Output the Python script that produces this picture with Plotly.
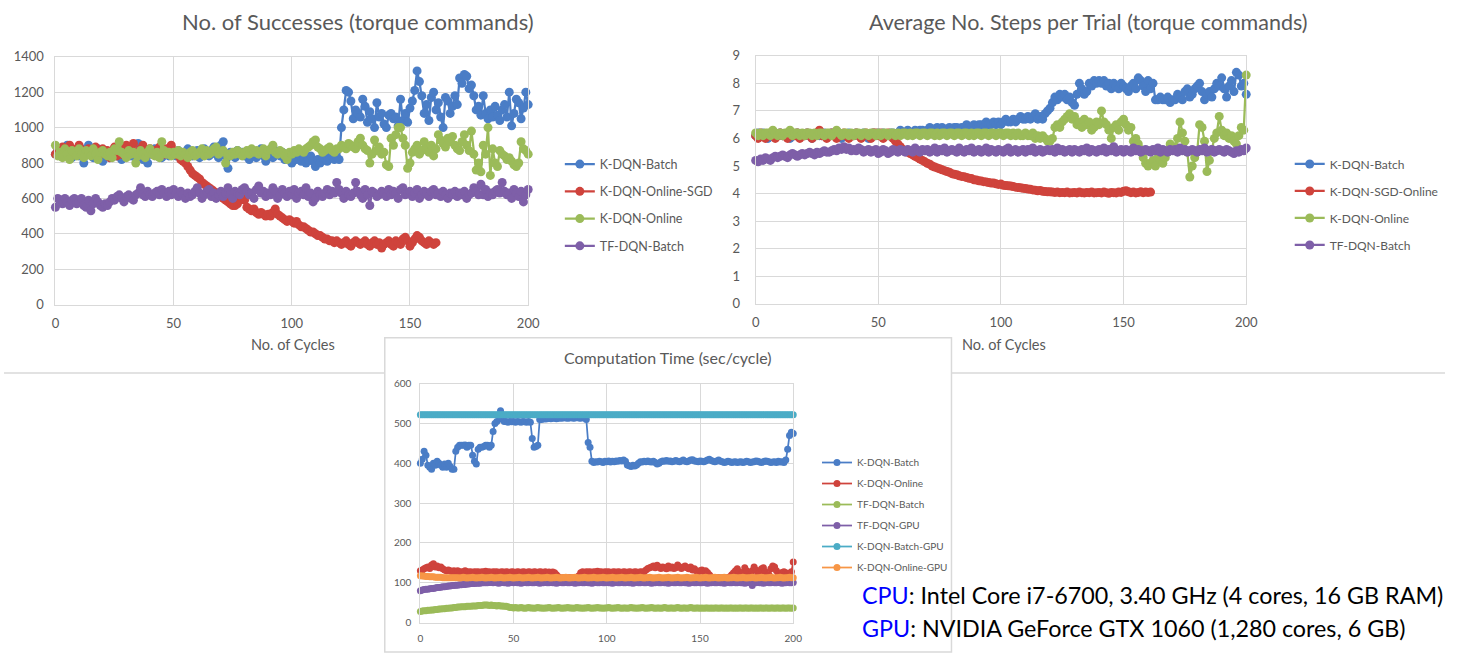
import plotly.graph_objects as go

W, H = 1457, 657

# ---------------- Chart 1: No. of Successes ----------------
succ_batch = [
    850, 870, 840, 880, 860, 900, 850, 830, 870, 860,
    840, 880, 800, 850, 900, 870, 830, 860, 880, 850,
    810, 870, 850, 830, 860, 880, 840, 860, 820, 870,
    850, 880, 840, 860, 830, 910, 850, 820, 870, 800,
    850, 860, 880, 840, 860, 830, 870, 850, 840, 880,
    860, 840, 870, 850, 830, 860, 880, 850, 840, 860,
    870, 830, 850, 880, 860, 840, 870, 890, 850, 830,
    900, 920, 840, 770, 860, 850, 830, 870, 850, 860,
    840, 860, 820, 870, 850, 830, 860, 880, 840, 810,
    850, 860, 830, 870, 850, 840, 860, 820, 850, 830,
    800, 830, 820, 850, 810, 830, 800, 820, 840, 810,
    780, 820, 800, 830, 850, 810, 830, 840, 820, 830,
    820,
    1000, 1100, 1210, 1200, 1150, 1050, 1100, 1080, 1060, 1160,
    1120, 1030, 1090, 1050, 1000, 1140, 1060, 1080, 1020, 1000,
    1070, 1080, 1050, 1060, 1010, 1160, 1040, 1080, 1030, 1110,
    1150, 1210, 1320, 1260, 1180, 1080, 1130, 1040, 1170, 1200,
    1100, 1140, 1060, 1000, 1170, 1150, 1080, 1120, 1180, 1130,
    1280, 1250, 1300, 1290, 1220, 1240, 1180, 1100, 1120, 1070,
    1180, 1080, 1050, 1100, 1060, 1120, 1070, 1040, 1100, 1130,
    1060, 1200, 1010, 1080, 1160, 1140, 1050, 1110, 1200, 1130,
]
succ_sgd = [
    850, 880, 870, 890, 860, 880, 900, 870, 850, 880,
    900, 860, 870, 850, 880, 870, 860, 890, 870, 850,
    880, 860, 870, 830, 860, 890, 840, 870, 850, 880,
    900, 870, 880, 910, 860, 850, 880, 900, 870, 860,
    880, 850, 870, 860, 890, 870, 850, 880, 860, 900,
    870, 860, 840, 820, 810, 800, 780, 760, 740, 730,
    720, 710, 690, 680, 670, 660, 650, 640, 630, 620,
    610, 600, 590, 580, 570, 560, 560, 570, 590, 600,
    590, 550, 540, 530, 540, 520, 510, 520, 510, 500,
    510, 500, 520, 540, 510, 500, 490, 480, 470, 480,
    470, 460, 470, 450, 440, 440, 430, 420, 410, 410,
    400, 390, 390, 380, 370, 370, 360, 360, 350, 360,
    350, 340, 350, 360, 340, 330, 350, 360, 350, 340,
    350, 360, 340, 330, 350, 360, 340, 350, 320, 340,
    350, 360, 340, 330, 360, 350, 340, 370, 380, 360,
    330, 350, 370, 390, 380, 360, 350, 340, 360, 350,
    340, 350,
]
succ_online = [
    900, 840, 860, 830, 880, 850, 820, 870, 860, 840,
    880, 850, 830, 870, 860, 840, 880, 850, 820, 860,
    870, 850, 840, 860, 830, 880, 870, 920, 860, 850,
    830, 870, 850, 860, 800, 840, 870, 850, 830, 860,
    880, 850, 840, 860, 830, 920, 870, 850, 860, 840,
    860, 850, 870, 840, 860, 850, 830, 860, 870, 840,
    850, 860, 880, 840, 870, 850, 860, 880, 890, 850,
    860, 870, 800, 850, 840, 860, 850, 870, 860, 840,
    860, 870, 850, 880, 860, 870, 850, 860, 880, 840,
    870, 880, 900, 860, 850, 870, 860, 840, 820, 860,
    850, 870, 860, 880, 870, 860, 880, 890, 900, 920,
    930, 890, 880, 860, 870, 880, 890, 870, 860, 880,
    880, 900, 890, 880, 910, 900, 890, 880, 920, 940,
    900, 880, 870, 800, 850, 930, 870, 890, 850, 860,
    790, 780, 940, 900, 960, 1000, 1000, 940, 900, 770,
    800, 860, 880, 900, 850, 870, 920, 880, 860, 900,
    840, 880, 960, 930, 910, 890, 940, 920, 950, 900,
    880, 870, 920, 960, 900, 870, 980, 850, 760, 800,
    750, 900, 850, 1000, 730, 880, 800, 780, 870, 850,
    840, 820, 830, 810, 790, 780, 800, 920, 880, 870,
    850,
]
succ_tf = [
    550, 600, 590, 570, 600, 580, 560, 590, 600, 570,
    580, 600, 560, 550, 590, 530, 570, 600, 580, 560,
    550, 570, 560, 580, 600, 590, 610, 620, 600, 580,
    610, 620, 600, 590, 620, 630, 660, 620, 610, 640,
    620, 610, 630, 640, 620, 650, 630, 610, 640, 620,
    650, 630, 610, 640, 620, 600, 630, 610, 620, 640,
    660, 630, 600, 620, 640, 650, 610, 630, 600, 620,
    640, 610, 630, 660, 620, 600, 640, 630, 620, 650,
    660, 640, 620, 630, 600, 650, 670, 630, 640, 610,
    630, 620, 660, 640, 600, 620, 650, 630, 610, 640,
    620, 650, 600, 630, 640, 620, 660, 610, 630, 580,
    600, 640, 620, 610, 630, 650, 620, 640, 630, 690,
    650, 630, 600, 640, 620, 610, 630, 690, 640, 620,
    600, 650, 620, 560, 640, 630, 610, 620, 640, 630,
    610, 650, 620, 640, 630, 600, 650, 660, 620, 630,
    640, 610, 630, 650, 600, 620, 640, 630, 610, 640,
    650, 620, 630, 610, 640, 620, 600, 630, 620, 640,
    610, 630, 620, 640, 600, 620, 630, 660, 640, 620,
    680, 620, 650, 610, 630, 620, 640, 650, 630, 690,
    640, 620, 630, 600, 650, 630, 610, 640, 580, 620,
    650,
]

# ---------------- Chart 2: Average No. Steps per Trial ----------------
steps_batch = [
    6.1, 6.2, 6.1, 6.2, 6.1, 6.0, 6.1, 6.2, 6.1, 6.1,
    6.2, 6.1, 6.1, 6.2, 6.0, 6.1, 6.1, 6.2, 6.1, 6.1,
    6.1, 6.2, 6.1, 6.0, 6.1, 6.2, 6.1, 6.1, 6.2, 6.1,
    6.1, 6.2, 6.1, 6.1, 6.2, 6.0, 6.1, 6.1, 6.2, 6.1,
    6.1, 6.2, 6.1, 6.1, 6.2, 6.1, 6.0, 6.1, 6.2, 6.1,
    6.2, 6.1, 6.2, 6.1, 6.1, 6.2, 6.2, 6.1, 6.2, 6.3,
    6.2, 6.2, 6.3, 6.2, 6.2, 6.3, 6.2, 6.3, 6.3, 6.2,
    6.3, 6.4, 6.3, 6.3, 6.4, 6.3, 6.4, 6.3, 6.3, 6.4,
    6.3, 6.4, 6.4, 6.3, 6.4, 6.4, 6.5, 6.4, 6.4, 6.5,
    6.4, 6.5, 6.5, 6.4, 6.6, 6.5, 6.5, 6.6, 6.5, 6.6,
    6.5, 6.6, 6.7, 6.6, 6.6, 6.7, 6.6, 6.7, 6.8, 6.7,
    6.7, 6.8, 6.7, 6.8, 6.9, 6.7, 6.8, 6.7, 6.9, 7.0,
    7.1, 7.3, 7.5, 7.4, 7.6, 7.5, 7.6, 7.4, 7.5, 7.3,
    7.2, 7.6, 8.0, 7.8, 7.6, 7.7, 8.0, 7.9, 8.1, 8.0,
    8.1, 8.0, 8.1, 7.9, 8.0, 7.8, 8.0, 7.9, 7.8, 8.0,
    7.9, 7.8, 7.7, 7.9, 8.0, 7.8, 8.2, 8.1, 7.9, 7.7,
    8.1, 7.8, 8.0, 7.4, 7.4, 7.5, 7.4, 7.4, 7.5, 7.3,
    7.4, 7.4, 7.6, 7.5, 7.4, 7.7, 7.8, 7.5, 7.6, 7.8,
    7.9, 8.0, 7.7, 7.4, 7.6, 7.7, 7.5, 7.8, 8.0, 7.9,
    8.2, 7.8, 7.5, 7.9, 8.1, 7.7, 8.4, 8.3, 7.9, 8.0,
    7.6,
]
steps_sgd = [
    6.1, 6.0, 6.2, 6.1, 6.0, 6.1, 6.2, 6.1, 6.0, 6.1,
    6.2, 6.1, 6.1, 6.0, 6.2, 6.1, 6.1, 6.2, 6.0, 6.1,
    6.1, 6.2, 6.1, 6.0, 6.1, 6.2, 6.3, 6.1, 6.1, 6.0,
    6.1, 6.2, 6.1, 6.0, 6.1, 6.1, 6.2, 6.1, 6.0, 6.1,
    6.1, 6.2, 6.1, 6.0, 6.1, 6.2, 6.1, 6.0, 6.2, 6.2,
    6.1, 6.2, 6.0, 6.1, 6.2, 6.1, 6.0, 5.9, 5.8, 5.7,
    5.6, 5.55, 5.5, 5.45, 5.4, 5.35, 5.3, 5.25, 5.2, 5.15,
    5.1, 5.06, 5.0, 4.96, 4.93, 4.9, 4.86, 4.83, 4.8, 4.77,
    4.72, 4.7, 4.68, 4.64, 4.62, 4.61, 4.58, 4.55, 4.54, 4.5,
    4.49, 4.46, 4.45, 4.43, 4.42, 4.4, 4.38, 4.38, 4.35, 4.33,
    4.34, 4.3, 4.29, 4.28, 4.27, 4.25, 4.23, 4.22, 4.21, 4.19,
    4.18, 4.16, 4.15, 4.13, 4.12, 4.1, 4.11, 4.08, 4.07, 4.06,
    4.06, 4.05, 4.04, 4.05, 4.03, 4.04, 4.03, 4.05, 4.02, 4.03,
    4.04, 4.02, 4.05, 4.03, 4.02, 4.04, 4.03, 4.05, 4.02, 4.03,
    4.04, 4.02, 4.05, 4.03, 4.01, 4.04, 4.03, 4.02, 4.05, 4.04,
    4.08, 4.1, 4.06, 4.03, 4.05, 4.02, 4.04, 4.06, 4.03, 4.05,
    4.04, 4.05,
]
steps_online = [
    6.2, 6.1, 6.2, 6.1, 6.2, 6.2, 6.1, 6.3, 6.2, 6.1,
    6.2, 6.1, 6.2, 6.2, 6.3, 6.1, 6.2, 6.2, 6.1, 6.2,
    6.1, 6.2, 6.2, 6.1, 6.2, 6.1, 6.2, 6.2, 6.1, 6.2,
    6.2, 6.1, 6.2, 6.3, 6.2, 6.1, 6.2, 6.2, 6.1, 6.2,
    6.1, 6.2, 6.2, 6.1, 6.2, 6.2, 6.1, 6.2, 6.2, 6.1,
    6.2, 6.1, 6.2, 6.2, 6.1, 6.2, 6.2, 6.1, 6.2, 6.1,
    6.2, 6.2, 6.1, 6.2, 6.1, 6.2, 6.2, 6.1, 6.2, 6.2,
    6.1, 6.2, 6.2, 6.1, 6.2, 6.1, 6.2, 6.2, 6.1, 6.2,
    6.2, 6.1, 6.2, 6.2, 6.1, 6.2, 6.2, 6.1, 6.2, 6.1,
    6.2, 6.2, 6.1, 6.2, 6.2, 6.1, 6.2, 6.2, 6.1, 6.2,
    6.2, 6.1, 6.2, 6.2, 6.1, 6.2, 6.1, 6.2, 6.1, 6.1,
    6.2, 6.1, 6.1, 6.2, 6.0, 6.1, 6.0, 6.1, 6.0, 5.9,
    5.9, 6.0, 6.4, 6.5, 6.4, 6.6, 6.7, 6.8, 6.9, 6.7,
    6.8, 6.5, 6.6, 6.4, 6.7, 6.5, 6.6, 6.3, 6.4, 6.6,
    6.5, 7.0, 6.6, 6.5, 6.3, 6.0, 6.4, 6.5, 6.3, 6.6,
    6.7, 6.5, 6.3, 6.4, 5.9, 6.0, 5.8, 5.6, 5.3, 5.1,
    5.0, 5.1, 5.2, 5.0, 5.3, 5.2, 5.1, 5.3, 5.5, 5.8,
    5.6, 5.7, 6.0, 6.6, 6.2, 5.9, 5.5, 4.6, 5.0, 5.3,
    5.5, 6.5, 6.4, 5.9, 4.8, 5.2, 5.6, 6.0, 6.2, 6.8,
    6.3, 6.1, 6.2, 6.0, 6.1, 5.9, 5.8, 6.1, 6.4, 6.3,
    8.3,
]
steps_tf = [
    5.2, 5.15, 5.25, 5.2, 5.3, 5.25, 5.2, 5.3, 5.35, 5.3,
    5.35, 5.4, 5.35, 5.3, 5.4, 5.45, 5.4, 5.35, 5.4, 5.45,
    5.4, 5.45, 5.5, 5.45, 5.4, 5.5, 5.45, 5.5, 5.55, 5.5,
    5.5, 5.55, 5.6, 5.55, 5.65, 5.6, 5.7, 5.6, 5.65, 5.55,
    5.6, 5.55, 5.65, 5.6, 5.5, 5.55, 5.6, 5.5, 5.55, 5.6,
    5.45, 5.5, 5.6, 5.55, 5.45, 5.5, 5.6, 5.55, 5.5, 5.6,
    5.55, 5.5, 5.6, 5.55, 5.5, 5.65, 5.55, 5.5, 5.6, 5.55,
    5.6, 5.5, 5.55, 5.65, 5.5, 5.6, 5.55, 5.65, 5.5, 5.55,
    5.6, 5.55, 5.5, 5.65, 5.55, 5.5, 5.6, 5.55, 5.65, 5.5,
    5.55, 5.6, 5.5, 5.55, 5.65, 5.5, 5.6, 5.55, 5.5, 5.6,
    5.55, 5.5, 5.6, 5.65, 5.5, 5.55, 5.6, 5.5, 5.55, 5.6,
    5.5, 5.6, 5.55, 5.65, 5.5, 5.55, 5.6, 5.5, 5.55, 5.6,
    5.55, 5.6, 5.5, 5.65, 5.55, 5.6, 5.5, 5.55, 5.6, 5.5,
    5.6, 5.55, 5.5, 5.6, 5.55, 5.65, 5.5, 5.6, 5.55, 5.5,
    5.6, 5.55, 5.65, 5.5, 5.6, 5.55, 5.7, 5.5, 5.55, 5.6,
    5.5, 5.6, 5.55, 5.5, 5.65, 5.55, 5.6, 5.5, 5.55, 5.6,
    5.55, 5.5, 5.6, 5.55, 5.65, 5.5, 5.6, 5.55, 5.5, 5.6,
    5.55, 5.6, 5.5, 5.65, 5.55, 5.6, 5.5, 5.55, 5.6, 5.55,
    5.5, 5.6, 5.55, 5.65, 5.5, 5.55, 5.6, 5.5, 5.55, 5.6,
    5.55, 5.5, 5.6, 5.55, 5.5, 5.45, 5.55, 5.5, 5.6, 5.55,
    5.65,
]

# ---------------- Chart 3: Computation Time (sec/cycle) ----------------
time_batch = [
    400, 410, 430, 420, 395, 390, 385, 400, 395, 405,
    400, 395, 390, 398, 390, 400, 392, 385, 385, 430,
    440, 445, 445, 445, 446, 440, 445, 445, 420, 405,
    398, 435, 440, 440, 442, 445, 445, 440, 445, 480,
    500, 505, 520, 532, 510, 505, 505, 503, 505, 504,
    505, 503, 505, 504, 503, 505, 504, 503, 505, 503,
    462, 440, 442, 445, 510, 510, 512, 511, 512, 513,
    512, 513, 514, 512, 513, 514, 513, 515, 514, 513,
    514, 515, 513, 514, 515, 514, 513, 515, 514, 510,
    452, 440, 405, 402, 404, 403, 405, 404, 402, 405,
    404, 406, 403, 405, 404, 406, 405, 407, 406, 408,
    405, 396, 394, 392, 395, 393, 396, 400, 404, 403,
    405, 404, 406, 404, 403, 405, 402, 398, 400, 404,
    406, 405, 407, 405, 406, 404, 405, 407, 405, 404,
    406, 408, 405, 404, 406, 408, 409, 406, 405, 404,
    406, 405, 404, 406, 408, 410, 407, 405, 404, 406,
    408, 405, 404, 402, 403, 405, 404, 402, 403, 404,
    402, 403, 404, 402, 403, 405, 404, 402, 403, 404,
    406, 405, 403, 402, 404, 406, 405, 404, 402, 403,
    404, 402, 405, 403, 404, 402, 408, 435, 470, 478,
    475,
]
time_online = [
    130, 132, 135, 138, 140, 136, 145, 148, 140, 142,
    138, 140, 135, 132, 130, 132, 130, 128, 130, 128,
    130, 128, 127, 128, 130, 128, 127, 128, 126, 128,
    127, 128, 126, 128, 127, 129, 127, 128, 126, 128,
    127, 128, 126, 127, 128, 126, 128, 127, 126, 128,
    127, 126, 128, 127, 126, 128, 127, 126, 128, 127,
    126, 128, 127, 126, 128, 127, 126, 128, 126, 127,
    126, 127, 125, 120, 115, 112, 112, 113, 112, 112,
    113, 112, 112, 113, 112, 118, 125, 128, 126, 128,
    127, 128, 126, 128, 127, 129, 127, 128, 126, 128,
    127, 128, 126, 127, 128, 126, 128, 127, 126, 128,
    127, 126, 128, 127, 126, 128, 127, 126, 128, 127,
    128, 132, 136, 138, 140, 142, 138, 144, 140, 136,
    140, 138, 135, 142, 137, 140, 136, 138, 145, 140,
    136, 140, 142, 138, 135, 140, 132, 135, 130, 128,
    130, 132, 128, 130, 126, 120, 115, 113, 112, 112,
    113, 112, 112, 113, 112, 113, 115, 120, 125, 130,
    135, 128, 120, 125, 138, 130, 115, 118, 130, 140,
    132, 120, 125, 135, 138, 128, 115, 120, 135, 142,
    140, 130, 122, 120, 126, 128, 125, 122, 124, 128,
    152,
]
time_tf_batch = [
    28, 29, 30, 30, 31, 31, 32, 32, 33, 33,
    34, 34, 35, 35, 36, 36, 37, 37, 38, 38,
    39, 39, 40, 40, 40, 41, 41, 41, 42, 42,
    42, 43, 43, 43, 44, 44, 44, 43, 44, 43,
    43, 42, 43, 42, 42, 41, 41, 40, 38, 38,
    37, 38, 37, 37, 38, 37, 36, 37, 38, 37,
    37, 36, 37, 38, 37, 37, 36, 37, 37, 38,
    37, 36, 37, 37, 38, 37, 36, 37, 37, 38,
    37, 37, 36, 37, 38, 37, 37, 36, 37, 37,
    38, 37, 36, 37, 37, 38, 37, 37, 36, 37,
    37, 38, 37, 36, 37, 37, 38, 37, 36, 37,
    37, 36, 37, 38, 37, 37, 36, 37, 37, 38,
    37, 36, 37, 37, 38, 37, 36, 37, 37, 36,
    37, 38, 37, 36, 37, 37, 36, 37, 38, 37,
    36, 37, 37, 36, 37, 38, 37, 36, 37, 37,
    36, 37, 36, 37, 37, 36, 37, 36, 37, 37,
    36, 37, 37, 36, 37, 36, 37, 37, 36, 37,
    36, 37, 37, 36, 37, 37, 36, 37, 37, 36,
    37, 36, 37, 37, 36, 37, 37, 36, 37, 37,
    36, 37, 37, 36, 37, 37, 36, 37, 37, 36,
    37,
]
time_tf_gpu = [
    80, 82, 83, 84, 84, 85, 86, 86, 87, 88,
    88, 89, 90, 90, 91, 92, 92, 93, 93, 94,
    94, 95, 95, 96, 96, 97, 97, 98, 98, 98,
    99, 99, 99, 100, 100, 100, 100, 101, 101, 100,
    101, 100, 99, 100, 101, 100, 100, 99, 100, 101,
    100, 101, 100, 100, 99, 100, 101, 100, 100, 101,
    100, 100, 101, 100, 99, 100, 100, 101, 100, 100,
    101, 100, 100, 99, 100, 101, 100, 100, 101, 100,
    100, 101, 100, 99, 100, 100, 101, 100, 100, 101,
    100, 100, 99, 100, 101, 100, 100, 101, 100, 100,
    101, 100, 100, 99, 100, 101, 100, 100, 101, 100,
    100, 101, 100, 100, 99, 100, 101, 100, 100, 101,
    100, 100, 101, 100, 99, 100, 100, 101, 100, 100,
    101, 100, 100, 99, 100, 101, 100, 100, 101, 100,
    100, 101, 100, 100, 99, 100, 101, 100, 100, 101,
    100, 100, 101, 100, 99, 100, 100, 101, 100, 100,
    101, 100, 100, 99, 100, 101, 100, 100, 101, 100,
    100, 101, 100, 100, 99, 100, 101, 100, 93, 100,
    100, 101, 100, 100, 99, 100, 101, 100, 100, 101,
    100, 100, 101, 100, 99, 100, 100, 101, 100, 100,
    101,
]
time_batch_gpu = [
    522, 522, 522, 522, 522, 522, 522, 522, 522, 522,
    522, 522, 522, 522, 522, 522, 522, 522, 522, 522,
    522, 522, 522, 522, 522, 522, 522, 522, 522, 522,
    522, 522, 522, 522, 522, 522, 522, 522, 522, 522,
    522, 522, 522, 522, 522, 522, 522, 522, 522, 522,
    522, 522, 522, 522, 522, 522, 522, 522, 522, 522,
    522, 522, 522, 522, 522, 522, 522, 522, 522, 522,
    522, 522, 522, 522, 522, 522, 522, 522, 522, 522,
    522, 522, 522, 522, 522, 522, 522, 522, 522, 522,
    522, 522, 522, 522, 522, 522, 522, 522, 522, 522,
    522, 522, 522, 522, 522, 522, 522, 522, 522, 522,
    522, 522, 522, 522, 522, 522, 522, 522, 522, 522,
    522, 522, 522, 522, 522, 522, 522, 522, 522, 522,
    522, 522, 522, 522, 522, 522, 522, 522, 522, 522,
    522, 522, 522, 522, 522, 522, 522, 522, 522, 522,
    522, 522, 522, 522, 522, 522, 522, 522, 522, 522,
    522, 522, 522, 522, 522, 522, 522, 522, 522, 522,
    522, 522, 522, 522, 522, 522, 522, 522, 522, 522,
    522, 522, 522, 522, 522, 522, 522, 522, 522, 522,
    522, 522, 522, 522, 522, 522, 522, 522, 522, 522,
    522,
]
time_online_gpu = [
    118, 117, 117, 116, 116, 115, 115, 115, 114, 114,
    114, 114, 113, 113, 113, 113, 113, 113, 113, 113,
    113, 112, 113, 114, 113, 112, 113, 113, 114, 113,
    112, 113, 113, 114, 113, 112, 113, 113, 114, 113,
    112, 113, 113, 114, 113, 112, 113, 113, 114, 113,
    112, 113, 113, 114, 113, 112, 113, 113, 114, 113,
    112, 113, 113, 114, 113, 112, 113, 113, 114, 113,
    112, 113, 113, 114, 113, 112, 113, 113, 114, 113,
    112, 113, 113, 114, 113, 112, 113, 113, 114, 113,
    112, 113, 113, 114, 113, 112, 113, 113, 114, 113,
    112, 113, 113, 114, 113, 112, 113, 113, 114, 113,
    112, 113, 113, 114, 113, 112, 113, 113, 114, 113,
    112, 113, 113, 114, 113, 112, 113, 113, 114, 113,
    112, 113, 113, 114, 113, 112, 113, 113, 114, 113,
    112, 113, 113, 114, 113, 112, 113, 113, 114, 113,
    112, 113, 113, 114, 113, 112, 113, 113, 114, 113,
    112, 113, 113, 114, 113, 112, 113, 113, 114, 113,
    112, 113, 113, 114, 113, 112, 113, 113, 114, 113,
    112, 113, 113, 114, 113, 112, 113, 113, 114, 113,
    112, 113, 113, 114, 113, 112, 113, 113, 114, 113,
    113,
]

chart1_names = ["K-DQN-Batch", "K-DQN-Online-SGD", "K-DQN-Online", "TF-DQN-Batch"]
chart2_names = ["K-DQN-Batch", "K-DQN-SGD-Online", "K-DQN-Online", "TF-DQN-Batch"]
chart3_names = ["K-DQN-Batch", "K-DQN-Online", "TF-DQN-Batch", "TF-DQN-GPU",
                "K-DQN-Batch-GPU", "K-DQN-Online-GPU"]

title1 = "No. of Successes (torque commands)"
title2 = "Average No. Steps per Trial (torque commands)"
title3 = "Computation Time (sec/cycle)"
xtitle = "No. of Cycles"
x_ticks = [0, 50, 100, 150, 200]

BLUE, RED, GREEN, PURPLE = "#4A7DC6", "#CF433C", "#9BBB59", "#7E5FA8"
CYAN, ORANGE = "#4BACC6", "#F79646"
TXT = "#595959"
GRID = "#D9D9D9"
FONT = "Lato, 'Open Sans', sans-serif"


def px(x):
    return x / W


def py(y):
    return 1 - y / H


fig = go.Figure()


def add(series, name, color, xa, ya, legend, msize, lw, grp):
    fig.add_trace(go.Scatter(
        x=list(range(len(series))), y=series, name=name,
        mode="lines+markers", xaxis=xa, yaxis=ya, legend=legend,
        legendgroup=grp,
        line=dict(color=color, width=lw),
        marker=dict(color=color, size=msize, symbol="circle"),
        cliponaxis=False,
    ))


for s, n, c in zip([succ_batch, succ_sgd, succ_online, succ_tf], chart1_names,
                   [BLUE, RED, GREEN, PURPLE]):
    add(s, n, c, "x", "y", "legend", 9, 2.25, "a" + n)
for s, n, c in zip([steps_batch, steps_sgd, steps_online, steps_tf], chart2_names,
                   [BLUE, RED, GREEN, PURPLE]):
    add(s, n, c, "x2", "y2", "legend2", 9, 2.25, "b" + n)
for s, n, c in zip([time_batch, time_online, time_tf_batch, time_tf_gpu,
                    time_batch_gpu, time_online_gpu], chart3_names,
                   [BLUE, RED, GREEN, PURPLE, CYAN, ORANGE]):
    add(s, n, c, "x3", "y3", "legend3", 7, 1.75, "c" + n)


def xax(dom, anchor, size, standoff):
    return dict(domain=dom, anchor=anchor, range=[0, 200], tickvals=x_ticks,
                showgrid=True, gridcolor=GRID, gridwidth=1, zeroline=False,
                showline=True, linecolor=GRID, linewidth=1, mirror=True,
                ticks="", ticklabelstandoff=standoff,
                tickfont=dict(family=FONT, size=size, color=TXT), fixedrange=True)


def yax(dom, anchor, rng, dtick, size, standoff):
    return dict(domain=dom, anchor=anchor, range=rng, dtick=dtick, tick0=0,
                showgrid=True, gridcolor=GRID, gridwidth=1, zeroline=False,
                showline=True, linecolor=GRID, linewidth=1, mirror=True,
                ticks="", ticklabelstandoff=standoff,
                tickfont=dict(family=FONT, size=size, color=TXT), fixedrange=True)


leg_common = dict(xanchor="left", yanchor="top", bgcolor="rgba(0,0,0,0)",
                  borderwidth=0, itemwidth=30, traceorder="grouped",
                  itemclick=False, itemdoubleclick=False)

fig.update_layout(
    width=W, height=H, autosize=False,
    margin=dict(l=0, r=0, t=0, b=0),
    paper_bgcolor="white", plot_bgcolor="white",
    font=dict(family=FONT, color=TXT),
    xaxis=xax([px(52), px(530)], "y", 13, 7),
    yaxis=yax([py(304), py(50)], "x", [0, 1400], 200, 13, 8),
    xaxis2=xax([px(760), px(1256)], "y2", 13, 7),
    yaxis2=yax([py(303), py(49)], "x2", [0, 9], 1, 13, 12),
    xaxis3=xax([px(421), px(798)], "y3", 10, 6),
    yaxis3=yax([py(630), py(385)], "x3", [0, 600], 100, 10, 6),
    legend=dict(x=px(562), y=py(145), tracegroupgap=8,
                font=dict(family=FONT, size=12.5, color=TXT), **leg_common),
    legend2=dict(x=px(1300), y=py(145), tracegroupgap=8,
                 font=dict(family=FONT, size=12, color=TXT), **leg_common),
    legend3=dict(x=px(822), y=py(451), tracegroupgap=2,
                 font=dict(family=FONT, size=10, color=TXT), **leg_common),
    showlegend=True,
)

# frames / separators
fig.add_shape(type="rect", xref="paper", yref="paper",
              x0=px(385), x1=px(958), y0=py(660), y1=py(338),
              line=dict(color=GRID, width=1.5), fillcolor="rgba(0,0,0,0)", layer="below")
fig.add_shape(type="line", xref="paper", yref="paper",
              x0=0, x1=px(385), y0=py(374), y1=py(374),
              line=dict(color=GRID, width=1.5))
fig.add_shape(type="line", xref="paper", yref="paper",
              x0=px(958), x1=1, y0=py(374), y1=py(374),
              line=dict(color=GRID, width=1.5))


def note(text, x, y, size, color=TXT, xanchor="center"):
    fig.add_annotation(text=text, x=px(x), y=py(y), xref="paper", yref="paper",
                       showarrow=False, xanchor=xanchor, yanchor="middle",
                       font=dict(family=FONT, size=size, color=color))


note(title1, 358, 14, 22)
note(title2, 1097, 14, 21.5)
note(title3, 671, 358, 16)
note(xtitle, 292, 345, 14.5)
note(xtitle, 1011, 345, 14.5)
note('<span style="color:#0000FF">CPU</span>: Intel Core i7-6700, 3.40 GHz (4 cores, 16 GB RAM)',
     866, 602, 23.3, color="#000000", xanchor="left")
note('<span style="color:#0000FF">GPU</span>: NVIDIA GeForce GTX 1060 (1,280 cores, 6 GB)',
     866, 635, 23.3, color="#000000", xanchor="left")

fig.write_html("out.html", config={"displayModeBar": False})
